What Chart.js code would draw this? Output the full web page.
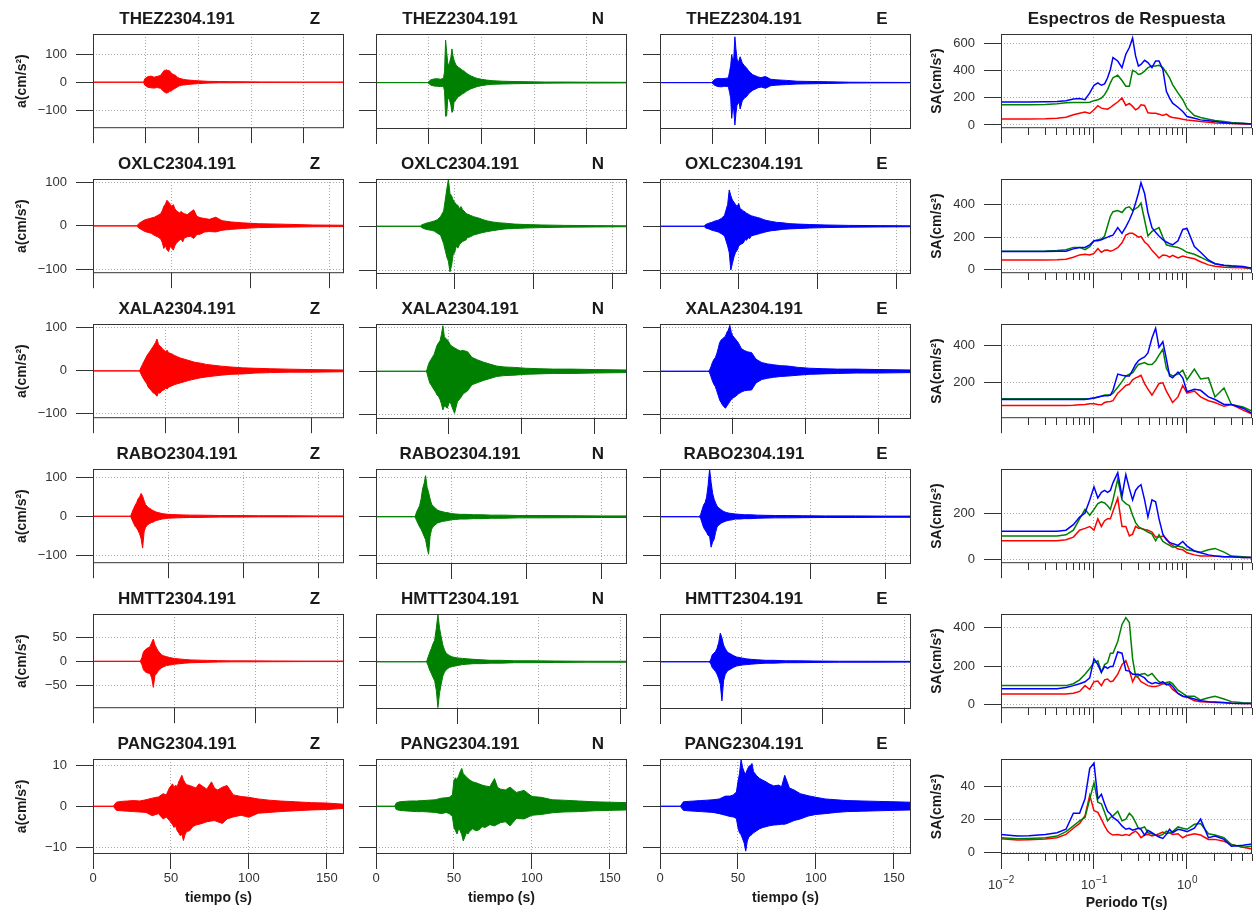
<!DOCTYPE html>
<html>
<head>
<meta charset="utf-8">
<script src="https://cdn.jsdelivr.net/npm/chart.js@4"></script>
<style>
  body { margin: 0; background: #fff; }
  #wrap { position: relative; width: 1256px; height: 912px; overflow: hidden; background: #fff; }
  #wrap canvas { position: absolute; }
</style>
</head>
<body>
<div id="wrap"></div>
<script>
// ================= DATA =================
const stations = ["THEZ2304.191", "OXLC2304.191", "XALA2304.191", "RABO2304.191", "HMTT2304.191", "PANG2304.191"];
const components = ["Z", "N", "E"];
const recordEnd = [238, 159.5, 172.6, 167, 154, 161];   // seconds shown on each row

// acceleration envelopes (max / min per time knot), cm/s2
const t_THEZ = [0, 48, 49, 52, 55, 58, 61, 64, 65, 66, 67, 68, 69, 70, 71, 72, 73, 74, 75, 76, 78, 80, 82, 84, 86, 88, 90, 93, 96, 100, 105, 110, 120, 130, 145, 160, 180, 200, 238];
const THEZ_Z_hi = [0, 0, 12, 20, 22, 18, 21, 24, 30, 35, 40, 44, 42, 45, 40, 43, 38, 35, 30, 28, 25, 18, 14, 12, 10, 9, 8, 7, 6, 5, 4, 3, 2.5, 2, 1.5, 1, 0.5, 0.3, 0];
const THEZ_Z_lo = [0, 0, -10, -18, -20, -21, -19, -22, -25, -30, -33, -36, -38, -39, -37, -35, -30, -33, -28, -26, -22, -17, -13, -11, -10, -9, -8, -7, -6, -5, -4, -3, -2, -2, -1.5, -1, -0.5, -0.3, 0];
const THEZ_N_hi = [0, 0, 0, 10, 13, 14, 12, 15, 40, 151, 110, 70, 60, 75, 90, 120, 95, 80, 70, 62, 55, 50, 44, 40, 33, 28, 24, 19, 15, 12, 9, 7, 5, 4, 3, 2, 2, 1.5, 1];
const THEZ_N_lo = [0, 0, 0, -9, -12, -13, -14, -13, -30, -120, -118, -60, -55, -65, -80, -106, -100, -70, -66, -60, -50, -46, -40, -36, -30, -26, -22, -18, -14, -11, -8, -6, -5, -4, -3, -2, -1.5, -1.5, -1];
const THEZ_E_hi = [0, 0, 0, 12, 15, 14, 15, 16, 20, 40, 60, 100, 80, 90, 163, 120, 85, 70, 80, 92, 70, 60, 53, 42, 35, 28, 25, 20, 18, 22, 12, 10, 8, 5, 4, 3, 1.5, 1, 0.5];
const THEZ_E_lo = [0, 0, 0, -10, -14, -15, -13, -14, -18, -35, -55, -127, -90, -100, -151, -110, -80, -75, -70, -94, -65, -55, -50, -40, -33, -27, -24, -18, -16, -20, -11, -9, -7, -5, -4, -3, -1.5, -1, -0.5];

const t_OXLC = [0, 28, 29, 31, 33, 35, 37, 39, 41, 43, 44, 45, 46, 47, 48, 49, 50, 51, 52, 53, 54, 55, 56, 57, 58, 60, 62, 64, 66, 68, 71, 74, 78, 82, 88, 95, 105, 120, 140, 159.5];
const OXLC_Z_hi = [0, 0, 5, 10, 14, 16, 18, 20, 24, 28, 35, 45, 50, 59, 55, 50, 45, 49, 40, 35, 32, 30, 33, 30, 28, 26, 32, 37, 22, 19, 17, 15, 20, 12, 9, 7, 5, 4, 2, 1.5];
const OXLC_Z_lo = [0, 0, -5, -9, -13, -15, -17, -22, -25, -30, -38, -52, -45, -55, -59, -48, -50, -56, -46, -40, -36, -33, -30, -37, -28, -25, -24, -29, -20, -19, -14, -13, -14, -10, -8, -6, -4, -3, -2, -1.5];
const OXLC_N_hi = [0, 0, 3, 6, 8, 10, 12, 15, 22, 35, 60, 85, 107, 75, 70, 60, 55, 50, 48, 40, 45, 38, 35, 30, 28, 25, 22, 20, 18, 15, 12, 10, 8, 7, 5, 4, 3, 2, 1.5, 1];
const OXLC_N_lo = [0, 0, -3, -6, -8, -9, -11, -16, -20, -40, -55, -70, -80, -104, -90, -65, -60, -45, -50, -42, -38, -35, -33, -32, -26, -24, -20, -18, -16, -14, -12, -10, -8, -6, -5, -4, -3, -2, -1.5, -1];
const OXLC_E_hi = [0, 0, 4, 7, 9, 12, 14, 18, 25, 50, 83, 70, 60, 55, 50, 45, 52, 40, 38, 35, 33, 30, 28, 26, 24, 22, 20, 18, 15, 13, 11, 9, 8, 6, 5, 4, 3, 2, 1.5, 1];
const OXLC_E_lo = [0, 0, -4, -6, -9, -11, -13, -17, -22, -45, -60, -100, -85, -70, -60, -55, -45, -42, -40, -38, -30, -32, -26, -28, -22, -20, -18, -16, -14, -12, -10, -9, -7, -6, -5, -4, -3, -2, -1.5, -1];

const t_XALA = [0, 32, 33, 34, 35, 36, 37, 38, 39, 40, 41, 42, 43, 44, 45, 46, 47, 48, 49, 50, 51, 52, 54, 56, 58, 60, 63, 66, 70, 74, 78, 83, 88, 95, 103, 112, 122, 135, 150, 172.6];
const XALA_Z_hi = [0, 0, 8, 15, 22, 28, 35, 40, 45, 50, 55, 60, 66, 74, 62, 58, 55, 50, 48, 45, 48, 42, 40, 36, 33, 30, 27, 24, 20, 18, 15, 13, 11, 9, 7, 6, 5, 4, 3, 2];
const XALA_Z_lo = [0, 0, -7, -14, -20, -25, -30, -38, -42, -45, -50, -52, -55, -59, -50, -52, -48, -45, -44, -40, -42, -38, -35, -32, -30, -28, -25, -22, -19, -16, -14, -12, -10, -8, -7, -5, -4, -3, -3, -2];
const XALA_N_hi = [0, 0, 0, 0, 3, 15, 23, 28, 34, 39, 50, 60, 66, 70, 85, 105, 80, 75, 73, 68, 62, 58, 54, 50, 47, 48, 45, 32, 26, 21, 17, 12, 10, 9, 7, 6, 5, 5, 4, 3];
const XALA_N_lo = [0, 0, 0, 0, -3, -16, -27, -32, -38, -43, -48, -55, -58, -65, -75, -89, -80, -82, -85, -75, -70, -80, -97, -70, -62, -52, -45, -31, -26, -21, -17, -12, -10, -9, -7, -6, -5, -5, -4, -3];
const XALA_E_hi = [0, 0, 0, 2, 10, 20, 27, 31, 40, 52, 66, 72, 75, 78, 81, 90, 95, 106, 90, 82, 78, 74, 65, 52, 48, 45, 43, 28, 20, 17, 15, 13, 12, 9, 7, 6, 5, 5, 4, 3];
const XALA_E_lo = [0, 0, 0, -2, -12, -22, -30, -35, -45, -55, -66, -72, -78, -82, -85, -80, -75, -70, -65, -62, -60, -58, -52, -48, -45, -44, -43, -27, -19, -16, -14, -12, -11, -9, -7, -6, -5, -4, -4, -3];

const t_RABO = [0, 25, 26, 27, 28, 29, 30, 31, 32, 33, 34, 35, 36, 37, 38, 39, 40, 41, 42, 44, 46, 48, 50, 53, 56, 60, 65, 70, 77, 85, 95, 110, 130, 150, 167];
const RABO_Z_hi = [0, 0, 10, 20, 28, 35, 45, 50, 59, 52, 40, 30, 26, 22, 20, 17, 15, 13, 11, 9, 7, 6, 5, 4.5, 4, 3.5, 3, 3, 2.5, 2, 2, 1.5, 1.5, 1, 1];
const RABO_Z_lo = [0, 0, -9, -18, -26, -30, -37, -45, -58, -82, -40, -28, -24, -20, -18, -16, -15, -13, -11, -9, -7, -6, -5, -4.5, -4, -3.5, -3, -3, -2.5, -2, -2, -1.5, -1.5, -1, -1];
const RABO_N_hi = [0, 0, 0, 12, 20, 28, 45, 71, 85, 105, 75, 62, 45, 32, 27, 24, 20, 17, 15, 13, 11, 10, 8, 7, 6, 6, 5, 5, 4, 4, 3, 3, 2.5, 2, 2];
const RABO_N_lo = [0, 0, 0, -10, -18, -26, -32, -41, -50, -59, -80, -96, -50, -32, -26, -22, -19, -16, -15, -12, -11, -10, -8, -7, -6, -6, -5, -5, -4, -4, -3, -3, -2.5, -2, -2];
const RABO_E_hi = [0, 0, 0, 5, 18, 30, 36, 50, 80, 122, 88, 60, 45, 35, 27, 23, 20, 17, 14, 11, 9, 8, 7, 6, 5, 5, 4, 3.5, 3, 3, 2.5, 2, 2, 1.5, 1.5];
const RABO_E_lo = [0, 0, 0, -4, -16, -28, -34, -40, -48, -50, -78, -65, -58, -40, -26, -22, -19, -16, -14, -11, -9, -8, -6, -6, -5, -5, -4, -3.5, -3, -3, -2.5, -2, -2, -1.5, -1.5];

const t_HMTT = [0, 29, 30, 31, 32, 33, 34, 35, 36, 37, 38, 39, 40, 41, 42, 43, 45, 47, 50, 53, 56, 60, 65, 70, 77, 85, 95, 110, 130, 154];
const HMTT_Z_hi = [0, 0, 8, 20, 24, 27, 29, 31, 40, 47, 35, 28, 22, 18, 14, 12, 10, 8, 6, 5, 4, 3, 2.5, 2, 1.5, 1, 1, 0.8, 0.5, 0.5];
const HMTT_Z_lo = [0, 0, -7, -18, -22, -24, -25, -26, -35, -55, -30, -26, -20, -17, -14, -12, -9, -8, -6, -5, -4, -3, -2.5, -2, -1.5, -1, -1, -0.8, -0.5, -0.5];
const HMTT_N_hi = [0, 0, 0, 0, 10, 20, 28, 38, 45, 70, 99, 70, 52, 35, 25, 18, 13, 10, 8, 7, 6, 5, 4, 3, 3, 2, 2, 1.5, 1, 1];
const HMTT_N_lo = [0, 0, 0, 0, -8, -18, -25, -33, -40, -60, -96, -65, -47, -30, -22, -17, -12, -10, -8, -6, -5, -4, -4, -3, -3, -2, -2, -1.5, -1, -1];
const HMTT_E_hi = [0, 0, 0, 3, 14, 18, 21, 28, 40, 60, 50, 35, 28, 22, 19, 17, 13, 10, 8, 6, 5, 4, 3, 3, 2, 2, 1.5, 1, 1, 0.8];
const HMTT_E_lo = [0, 0, 0, -3, -12, -16, -20, -26, -35, -47, -82, -40, -27, -21, -18, -16, -12, -9, -7, -6, -5, -4, -3, -3, -2, -2, -1.5, -1, -1, -0.8];

const t_PANG = [0, 12, 13, 15, 18, 22, 26, 30, 34, 38, 42, 45, 47, 49, 50, 51, 52, 53, 54, 55, 56, 57, 58, 59, 60, 62, 64, 66, 68, 70, 73, 76, 78, 80, 83, 86, 90, 95, 100, 106, 113, 120, 130, 140, 150, 161];
const PANG_Z_hi = [0, 0, 0, 1.0, 1.2, 1.3, 1.4, 1.3, 1.6, 2.0, 2.3, 3.1, 2.8, 4.5, 5.0, 5.5, 4.6, 5.2, 4.8, 6.0, 6.8, 7.6, 6.5, 5.8, 5.3, 5.1, 4.8, 4.5, 5.5, 5.0, 4.2, 6.0, 4.4, 4.0, 4.7, 5.1, 2.8, 2.4, 2.2, 1.8, 1.5, 1.3, 1.1, 0.9, 0.8, 0.5];
const PANG_Z_lo = [0, 0, 0, -1.0, -1.1, -1.2, -1.3, -1.4, -1.5, -2.3, -1.8, -3.1, -2.6, -3.5, -4.0, -4.5, -5.2, -4.8, -6.0, -6.5, -7.2, -6.8, -8.4, -7.0, -6.2, -6.0, -5.0, -4.6, -4.4, -4.2, -3.8, -3.6, -3.5, -3.8, -4.2, -3.1, -2.6, -2.2, -2.7, -1.7, -1.5, -1.3, -1.1, -0.9, -0.8, -0.5];
const PANG_N_hi = [0, 0, 0.8, 1.1, 1.2, 1.3, 1.3, 1.4, 1.5, 1.6, 2.0, 2.1, 2.2, 2.8, 6.4, 7.0, 6.5, 7.5, 8.5, 9.3, 8.0, 7.6, 7.2, 6.8, 6.5, 6.0, 5.8, 5.5, 5.2, 5.0, 4.8, 6.8, 4.6, 4.2, 4.0, 4.7, 3.4, 3.9, 2.4, 2.2, 1.6, 1.5, 1.3, 1.1, 1.0, 0.9];
const PANG_N_lo = [0, 0, -0.8, -1.0, -1.1, -1.2, -1.3, -1.3, -1.4, -1.5, -1.8, -1.5, -1.8, -2.5, -5.2, -6.0, -6.8, -5.5, -6.0, -7.0, -8.5, -7.5, -6.5, -6.8, -6.2, -5.5, -6.0, -5.8, -5.0, -5.2, -4.5, -4.8, -4.4, -4.0, -3.8, -4.8, -3.0, -3.1, -2.2, -2.0, -1.6, -1.4, -1.3, -1.1, -1.0, -0.9];
const PANG_E_hi = [0, 0, 0, 1.1, 1.2, 1.3, 1.4, 1.5, 1.6, 1.8, 2.5, 2.5, 2.8, 3.5, 6.0, 8.0, 11.5, 9.5, 8.4, 8.0, 9.0, 9.8, 10.0, 10.5, 8.5, 7.5, 6.8, 6.4, 6.0, 5.5, 5.0, 5.2, 4.8, 7.6, 4.5, 4.0, 3.1, 2.6, 2.2, 1.8, 1.6, 1.4, 1.3, 1.2, 1.1, 1.0];
const PANG_E_lo = [0, 0, 0, -1.0, -1.1, -1.2, -1.3, -1.4, -1.5, -1.8, -2.2, -2.5, -2.6, -3.0, -5.2, -6.5, -7.0, -8.0, -9.0, -11.0, -8.5, -7.5, -7.2, -6.9, -6.5, -6.0, -5.5, -5.2, -5.0, -4.8, -4.6, -4.5, -4.4, -4.4, -4.0, -3.5, -3.1, -2.4, -2.0, -1.8, -1.5, -1.3, -1.2, -1.1, -1.0, -0.9];

// response spectra, SA (cm/s2) vs period T (s)
const periods = [0.01, 0.015, 0.02, 0.03, 0.04, 0.05, 0.06, 0.07, 0.08, 0.09, 0.1, 0.11, 0.12, 0.13, 0.14, 0.15, 0.16, 0.18, 0.2, 0.22, 0.24, 0.26, 0.28, 0.3, 0.32, 0.35, 0.38, 0.42, 0.46, 0.5, 0.55, 0.6, 0.65, 0.7, 0.8, 0.9, 1.0, 1.2, 1.4, 1.7, 2.0, 2.5, 3.0, 4.0, 5.0];
const SA_THEZ_Z = [44, 44, 44, 45, 49, 57, 74, 86, 94, 84, 111, 141, 123, 119, 116, 128, 143, 168, 197, 143, 158, 136, 111, 123, 148, 143, 89, 86, 86, 79, 69, 79, 62, 54, 49, 42, 37, 30, 25, 20, 15, 12, 10, 7, 5];
const SA_THEZ_N = [148, 148, 148, 150, 155, 162, 165, 165, 165, 166, 178, 185, 197, 222, 259, 309, 346, 365, 326, 284, 284, 400, 390, 370, 375, 395, 420, 432, 432, 437, 420, 383, 346, 296, 235, 185, 123, 69, 54, 42, 32, 25, 17, 12, 7];
const SA_THEZ_E = [168, 168, 168, 170, 172, 178, 190, 193, 185, 235, 291, 309, 291, 301, 346, 407, 494, 469, 420, 519, 568, 637, 506, 432, 444, 474, 457, 420, 469, 469, 407, 247, 197, 160, 130, 99, 62, 49, 37, 30, 25, 17, 12, 10, 7];
const SA_OXLC_Z = [60, 60, 60, 60, 62, 65, 77, 91, 95, 91, 100, 130, 107, 119, 121, 114, 119, 135, 165, 212, 223, 223, 212, 200, 205, 170, 153, 119, 95, 72, 91, 88, 77, 88, 72, 84, 77, 67, 49, 30, 21, 16, 14, 12, 7];
const SA_OXLC_N = [114, 114, 114, 115, 118, 123, 137, 137, 123, 142, 177, 184, 188, 207, 270, 328, 356, 363, 351, 379, 386, 363, 374, 386, 409, 305, 207, 235, 247, 258, 200, 153, 147, 142, 137, 123, 107, 95, 77, 53, 37, 26, 21, 16, 9];
const SA_OXLC_E = [112, 112, 112, 112, 113, 114, 128, 137, 137, 153, 177, 177, 184, 193, 200, 207, 212, 258, 223, 263, 305, 351, 409, 467, 533, 467, 351, 258, 230, 207, 184, 170, 160, 153, 177, 247, 253, 142, 107, 60, 37, 28, 24, 20, 9];
const SA_XALA_Z = [79, 79, 79, 79, 79, 80, 81, 83, 85, 89, 89, 85, 83, 95, 99, 101, 105, 145, 166, 186, 192, 216, 226, 232, 240, 196, 166, 135, 166, 196, 200, 156, 125, 95, 125, 186, 145, 156, 125, 105, 95, 75, 85, 55, 34];
const SA_XALA_N = [115, 115, 115, 115, 115, 115, 115, 115, 115, 116, 119, 123, 129, 135, 135, 135, 145, 176, 206, 236, 246, 253, 277, 297, 301, 307, 297, 297, 317, 347, 378, 277, 246, 236, 246, 267, 216, 273, 220, 226, 125, 172, 85, 71, 50];
const SA_XALA_E = [111, 111, 111, 111, 111, 111, 111, 111, 111, 115, 119, 125, 129, 131, 131, 135, 160, 246, 240, 236, 236, 267, 297, 317, 327, 337, 358, 438, 489, 388, 418, 327, 236, 226, 257, 226, 152, 166, 160, 125, 111, 85, 85, 65, 38];
const SA_RABO_Z = [82, 82, 82, 82, 82, 87, 98, 128, 136, 144, 128, 177, 144, 169, 177, 177, 210, 267, 144, 144, 103, 111, 144, 136, 136, 131, 128, 120, 98, 98, 103, 92, 70, 62, 46, 43, 30, 21, 16, 16, 16, 13, 13, 10, 10];
const SA_RABO_N = [103, 103, 103, 103, 103, 108, 128, 177, 218, 193, 218, 243, 251, 246, 234, 218, 259, 349, 259, 243, 234, 193, 161, 144, 136, 128, 120, 111, 82, 108, 79, 70, 62, 54, 59, 54, 43, 38, 33, 43, 49, 33, 16, 13, 10];
const SA_RABO_E = [123, 123, 123, 123, 123, 128, 152, 185, 202, 259, 316, 267, 292, 300, 292, 300, 333, 377, 275, 369, 308, 259, 300, 316, 325, 259, 185, 259, 251, 177, 111, 87, 75, 70, 62, 79, 59, 38, 30, 21, 16, 13, 13, 10, 10];
const SA_HMTT_Z = [55, 55, 55, 55, 55, 55, 59, 69, 99, 79, 119, 123, 99, 129, 133, 119, 123, 158, 208, 228, 178, 119, 149, 139, 119, 109, 99, 95, 95, 99, 109, 109, 99, 79, 59, 44, 40, 20, 16, 14, 12, 10, 8, 6, 6];
const SA_HMTT_N = [99, 99, 99, 99, 99, 99, 109, 129, 158, 188, 218, 228, 168, 208, 218, 267, 267, 327, 416, 451, 426, 238, 149, 149, 158, 162, 149, 162, 139, 119, 109, 115, 119, 109, 75, 59, 44, 44, 24, 36, 44, 30, 16, 10, 8];
const SA_HMTT_E = [83, 83, 83, 83, 83, 89, 99, 109, 119, 139, 238, 208, 168, 198, 188, 198, 198, 273, 267, 178, 174, 158, 158, 158, 149, 139, 119, 109, 115, 109, 119, 103, 109, 95, 59, 44, 40, 30, 20, 16, 14, 12, 8, 6, 6];
const SA_PANG_Z = [8.4, 7.6, 7.8, 8.2, 9.0, 11, 14.7, 17.6, 22.2, 34.5, 25.3, 24.3, 20.2, 16.1, 13, 11.4, 10.6, 11, 10.4, 11, 10.4, 12, 13, 11.4, 9, 10.6, 11, 10, 10.6, 11.4, 12.4, 11.4, 12, 11, 11.4, 9, 10.4, 11.4, 10.6, 8, 8, 6.9, 4.9, 3.3, 2.2];
const SA_PANG_N = [9, 8.4, 8.6, 9, 10, 12.7, 16.1, 19.2, 21.2, 32.4, 42, 30.4, 29.4, 24.3, 19.2, 21.2, 22.2, 24.9, 19.2, 20.2, 23.7, 21.6, 18.2, 14.7, 14.7, 15.5, 12, 11.4, 10.6, 10, 11, 13, 12, 12.7, 15.5, 14.7, 14.1, 17.1, 17.6, 11.4, 10.6, 9, 4.9, 3.3, 3.9];
const SA_PANG_E = [11, 10, 10.2, 11, 12, 14.1, 23.7, 23.7, 32.4, 50.8, 53.9, 32.4, 35.1, 29.4, 24.9, 23.3, 21.2, 19.2, 16.1, 14.1, 14.7, 13.5, 14.1, 14.7, 14.1, 10.6, 13.5, 12, 10.6, 9.4, 8.6, 11, 14.1, 12, 14.1, 13.5, 12.7, 14.7, 20.2, 9, 10, 8, 3.9, 4.5, 5.3];

// tables built from the arrays above
const timeGrid = [t_THEZ, t_OXLC, t_XALA, t_RABO, t_HMTT, t_PANG];
const traceHi = [
  [THEZ_Z_hi, THEZ_N_hi, THEZ_E_hi], [OXLC_Z_hi, OXLC_N_hi, OXLC_E_hi], [XALA_Z_hi, XALA_N_hi, XALA_E_hi],
  [RABO_Z_hi, RABO_N_hi, RABO_E_hi], [HMTT_Z_hi, HMTT_N_hi, HMTT_E_hi], [PANG_Z_hi, PANG_N_hi, PANG_E_hi]
];
const traceLo = [
  [THEZ_Z_lo, THEZ_N_lo, THEZ_E_lo], [OXLC_Z_lo, OXLC_N_lo, OXLC_E_lo], [XALA_Z_lo, XALA_N_lo, XALA_E_lo],
  [RABO_Z_lo, RABO_N_lo, RABO_E_lo], [HMTT_Z_lo, HMTT_N_lo, HMTT_E_lo], [PANG_Z_lo, PANG_N_lo, PANG_E_lo]
];
const spectra = [
  [SA_THEZ_Z, SA_THEZ_N, SA_THEZ_E], [SA_OXLC_Z, SA_OXLC_N, SA_OXLC_E], [SA_XALA_Z, SA_XALA_N, SA_XALA_E],
  [SA_RABO_Z, SA_RABO_N, SA_RABO_E], [SA_HMTT_Z, SA_HMTT_N, SA_HMTT_E], [SA_PANG_Z, SA_PANG_N, SA_PANG_E]
];

// axis limits and ticks per row
const accLim = [[-165, 173], [-109, 108], [-110, 109], [-121, 122], [-99, 100], [-11.7, 11.6]];
const accTicks = [[-100, 0, 100], [-100, 0, 100], [-100, 0, 100], [-100, 0, 100], [-50, 0, 50], [-10, 0, 10]];
const saLim = [[-24, 667], [-21, 556], [12, 512], [-15, 393], [-18, 470], [-0.8, 56.4]];
const saTicks = [[0, 200, 400, 600], [0, 200, 400], [200, 400], [0, 200], [0, 200, 400], [0, 20, 40]];
const decades = [[0.01, "\u22122"], [0.1, "\u22121"], [1, "0"]];

// ================= STYLE / LAYOUT =================
const FONT = '"Liberation Sans", Arial, Helvetica, sans-serif';
Chart.defaults.font.family = FONT;
Chart.defaults.color = "#333";

const compColor = ["#ff0000", "#008000", "#0000ff"];
const GRID = "#a8a8a8";
const colLeft = [93, 376, 660, 1001];
const rowTop = [34, 179, 324, 469, 614, 759];
const PW = 251, PH = 95, AXW = 92, TOPPAD = 34;

const wrap = document.getElementById("wrap");

function makeCanvas(left, top, w, h) {
  const c = document.createElement("canvas");
  c.width = w; c.height = h;
  c.style.left = left + "px"; c.style.top = top + "px";
  c.style.width = w + "px"; c.style.height = h + "px";
  wrap.appendChild(c);
  return c;
}

const fmt = v => (v < 0 ? "\u2212" + Math.abs(v) : String(v));

// box around plot, panel titles, 10^n labels
const frame = {
  id: "frame",
  afterDraw(chart, args, o) {
    const { ctx, chartArea: a } = chart;
    ctx.save();
    ctx.strokeStyle = "#333";
    ctx.lineWidth = 1;
    ctx.strokeRect(a.left + 0.5, a.top + 0.5, a.right - a.left - 1, a.bottom - a.top - 1);
    ctx.font = "bold 17px " + FONT;
    ctx.fillStyle = "#1a1a1a";
    ctx.textAlign = "center";
    ctx.textBaseline = "middle";
    const y = a.top - 15;
    if (o.name) ctx.fillText(o.name, a.left + 84, y);
    if (o.comp) ctx.fillText(o.comp, a.left + 222, y);
    if (o.main) ctx.fillText(o.main, (a.left + a.right) / 2, y);

    if (o.powers) {
      const xs = chart.scales.x;
      ctx.fillStyle = "#333";
      ctx.textAlign = "left";
      ctx.textBaseline = "alphabetic";
      decades.forEach(([v, e]) => {
        const px = xs.getPixelForValue(v);
        ctx.font = "13px " + FONT;
        const w1 = ctx.measureText("10").width;
        ctx.font = "10px " + FONT;
        const w2 = ctx.measureText(e).width;
        const x0 = px - (w1 + w2) / 2;
        ctx.font = "13px " + FONT;
        ctx.fillText("10", x0, a.bottom + 35);
        ctx.font = "10px " + FONT;
        ctx.fillText(e, x0 + w1 + 0.5, a.bottom + 29);
      });
    }
    ctx.restore();
  }
};

function yAxis(lim, ticks, labels, title, titlePad) {
  return {
    min: lim[0], max: lim[1],
    afterBuildTicks: s => { s.ticks = ticks.map(v => ({ value: v })); },
    afterFit: s => { s.width = AXW; },
    grid: { color: GRID, lineWidth: 1, tickLength: 17, tickColor: "#333", tickWidth: 1 },
    border: { display: false, dash: [1, 2] },
    ticks: { display: labels, padding: 9, font: { size: 13 }, color: "#333", callback: v => fmt(v) },
    title: { display: !!title, text: title || "", font: { size: 14, weight: "bold" }, color: "#1a1a1a", padding: { top: titlePad } }
  };
}

// ================= SEISMOGRAMS =================
function seisPanel(r, c) {
  const bottom = r === 5;
  const axH = bottom ? 56 : 16;
  const cv = makeCanvas(colLeft[c] - AXW, rowTop[r] - TOPPAD, AXW + PW + 4, TOPPAD + PH + axH);
  const t = timeGrid[r], hi = traceHi[r][c], lo = traceLo[r][c];
  const col = compColor[c];
  const xt = r === 0 ? [0, 50, 100, 150, 200] : [0, 50, 100, 150];

  new Chart(cv, {
    type: "line",
    data: {
      datasets: [
        { data: t.map((x, i) => ({ x, y: hi[i] })), borderColor: col, backgroundColor: col,
          borderWidth: 1, pointRadius: 0, tension: 0, fill: "+1" },
        { data: t.map((x, i) => ({ x, y: lo[i] })), borderColor: col,
          borderWidth: 1, pointRadius: 0, tension: 0, fill: false }
      ]
    },
    options: {
      responsive: false, animation: false, events: [],
      layout: { padding: { top: TOPPAD, right: 4, left: 0, bottom: 0 } },
      plugins: {
        legend: { display: false }, tooltip: { enabled: false },
        frame: { name: stations[r], comp: components[c] }
      },
      scales: {
        x: {
          type: "linear", min: 0, max: recordEnd[r],
          afterBuildTicks: s => { s.ticks = xt.map(v => ({ value: v })); },
          afterFit: s => { s.height = axH; s.paddingLeft = 0; s.paddingRight = 0; },
          grid: { color: GRID, tickLength: 15, tickColor: "#333" },
          border: { display: false, dash: [1, 2] },
          ticks: { display: bottom, padding: 2, font: { size: 13 }, color: "#333", maxRotation: 0, autoSkip: false },
          title: { display: bottom, text: "tiempo (s)", font: { size: 14, weight: "bold" }, color: "#1a1a1a", padding: { bottom: 3 } }
        },
        y: yAxis(accLim[r], accTicks[r], c === 0, c === 0 ? "a(cm/s\u00b2)" : "", 12.6)
      }
    },
    plugins: [frame]
  });
}

// ================= RESPONSE SPECTRA =================
const logTicks = [];
[0.01, 0.1, 1].forEach(d => { for (let k = 1; k <= 9; k++) if (k * d <= 5.0001) logTicks.push(+(k * d).toFixed(3)); });
const isDecade = v => decades.some(d => Math.abs(d[0] - v) < 1e-9);

function spectraPanel(r) {
  const bottom = r === 5;
  const axH = bottom ? 60 : 16;
  const cv = makeCanvas(colLeft[3] - AXW, rowTop[r] - TOPPAD, AXW + PW + 4, TOPPAD + PH + axH);
  // blue first so it is drawn on top
  const order = [2, 1, 0];

  new Chart(cv, {
    type: "line",
    data: {
      datasets: order.map(c => ({
        data: periods.map((x, i) => ({ x, y: spectra[r][c][i] })),
        borderColor: compColor[c], borderWidth: 1.5, pointRadius: 0, tension: 0, fill: false
      }))
    },
    options: {
      responsive: false, animation: false, events: [],
      layout: { padding: { top: TOPPAD, right: 4, left: 0, bottom: 0 } },
      plugins: {
        legend: { display: false }, tooltip: { enabled: false },
        frame: { main: r === 0 ? "Espectros de Respuesta" : "", powers: bottom }
      },
      scales: {
        x: {
          type: "logarithmic", min: 0.01, max: 5,
          afterBuildTicks: s => { s.ticks = logTicks.map(v => ({ value: v })); },
          afterFit: s => { s.height = axH; s.paddingLeft = 0; s.paddingRight = 0; },
          grid: {
            color: ctx => (ctx.tick && isDecade(ctx.tick.value) ? GRID : "rgba(0,0,0,0)"),
            tickLength: 15, tickColor: "#333",
            tickBorderDash: ctx => (ctx.tick && isDecade(ctx.tick.value) ? [] : [7, 40])
          },
          border: { display: false, dash: [1, 2] },
          ticks: { display: false },
          title: { display: bottom, text: "Periodo T(s)", font: { size: 14, weight: "bold" }, color: "#1a1a1a", padding: { bottom: 2.3 } }
        },
        y: yAxis(saLim[r], saTicks[r], true, "SA(cm/s\u00b2)", 19.3)
      }
    },
    plugins: [frame]
  });
}

// ================= INIT =================
for (let r = 0; r < 6; r++) {
  for (let c = 0; c < 3; c++) seisPanel(r, c);
  spectraPanel(r);
}
</script>
</body>
</html>
